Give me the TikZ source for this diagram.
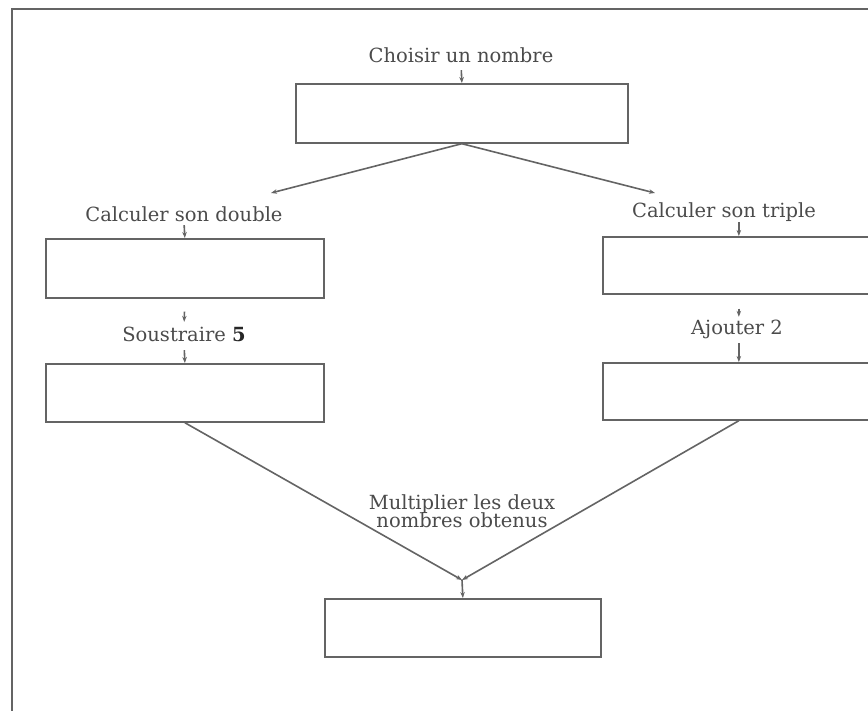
\documentclass[tikz,border=0pt]{standalone}
\usepackage{fontspec}
\setmainfont{DejaVu Serif}
\usetikzlibrary{arrows.meta}
\definecolor{ink}{RGB}{75,75,75}
\definecolor{linec}{RGB}{100,100,100}
\begin{document}
\begin{tikzpicture}[x=1pt,y=-1pt,
  box/.style={draw=linec, line width=1.7pt, minimum width=278pt, minimum height=59pt, inner sep=0pt, anchor=north west},
  lbl/.style={text=ink, font=\fontsize{19.5}{19}\selectfont, inner sep=0pt, anchor=base, text depth=0pt, text height=14pt},
  conn/.style={draw=linec, line width=1.6pt},
  tip/.style={conn, -{Stealth[length=6pt,width=4.5pt]}},
]
\useasboundingbox (0,0) rectangle (868,711);
\fill[white] (0,0) rectangle (868,711);
% outer frame (cut by the page edge)
\draw[conn] (12,730) -- (12,9) -- (890,9);

% boxes
\node[box, minimum width=332pt] (b0) at (295,83) {};
\node[box] (b1) at (45,238) {};
\node[box, minimum height=58pt] (b2) at (45,363) {};
\node[box, minimum width=272pt, minimum height=57pt] (b3) at (602,236) {};
\node[box, minimum width=272pt, minimum height=57pt] (b4) at (602,362) {};
\node[box, minimum width=276pt, minimum height=58pt] (b5) at (324,598) {};

% labels
\node[lbl] (t0) at (461,63) {Choisir un nombre};
\node[lbl] (t1) at (184,222) {Calculer son double};
\node[lbl] (t2) at (184,342) {Soustraire {\color{black!85}\bfseries 5}};
\node[lbl] (t3) at (724,218) {Calculer son triple};
\node[lbl] (t4) at (737,335) {Ajouter 2};
\node[lbl] (t5a) at (462,509) {Multiplier les deux};
\node[lbl] (t5b) at (462,527) {nombres obtenus};

% short arrows
\draw[tip, shorten <=7pt] (t0.south) -- (b0.north);
\draw[tip, shorten <=3pt] (t1.south) -- (b1.north);
\draw[tip, shorten <=13pt, shorten >=6pt] (b1.south) -- (t2.north);
\draw[tip, shorten <=8pt] (t2.south) -- (b2.north);
\draw[tip, shorten <=4pt] (t3.south -| b3.north) -- (b3.north);
\draw[tip, shorten <=14pt, shorten >=4pt] (b3.south) -- (b3.south |- t4.north);
\draw[tip, shorten <=8pt] (b4.north |- t4.south) -- (b4.north);

% diagonal connectors
\coordinate (e1) at (271,193);
\coordinate (e2) at (655,193);
\coordinate (m) at (462,580);
\draw[tip] (b0.south) -- (e1);
\draw[tip] (b0.south) -- (e2);
\draw[tip] (b2.south) -- (m);
\draw[tip] (b4.south) -- (m);
\draw[tip] (m) -- (b5.north);
\end{tikzpicture}
\end{document}
